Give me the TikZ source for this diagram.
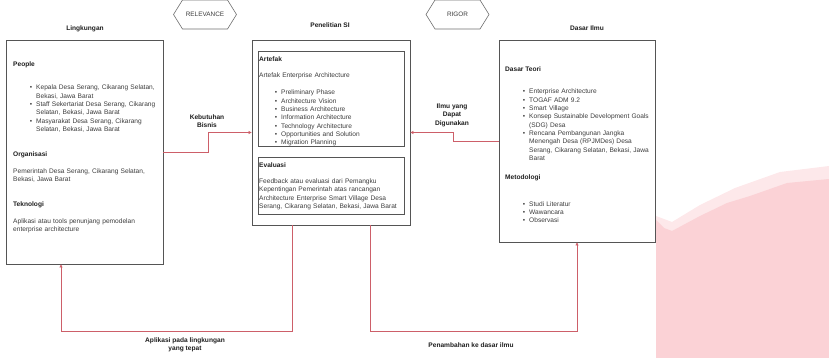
\documentclass[tikz,border=0pt]{standalone}
\usepackage{fontspec}
\setmainfont{Liberation Sans}
\usetikzlibrary{arrows.meta}
\definecolor{txtc}{RGB}{60,60,60}
\definecolor{headc}{RGB}{30,30,30}
\definecolor{boxc}{RGB}{85,85,85}
\definecolor{hexc}{RGB}{110,110,110}
\definecolor{linec}{RGB}{205,95,105}
\definecolor{pinkA}{RGB}{251,210,214}
\definecolor{pinkB}{RGB}{253,232,234}
\newcommand\fsz{\fontsize{6.6}{8.3}\selectfont}
\newcommand\mybl[1]{\begin{list}{\textbullet}{\setlength\leftmargin{10pt}\setlength\labelwidth{5pt}\setlength\labelsep{4pt}\setlength\itemsep{0pt}\setlength\parsep{0pt}\setlength\topsep{0pt}\setlength\partopsep{0pt}}#1\end{list}}
\tikzset{
  bigbox/.style={draw=boxc, line width=0.8pt, inner sep=0pt},
  inbox/.style={draw=boxc, line width=0.7pt, inner sep=0pt},
  txt/.style={anchor=north west, inner sep=0pt, text width=150pt, align=left, font=\fsz, text=txtc},
  head/.style={anchor=north west, inner sep=0pt, font=\fsz\bfseries, text=headc},
  title/.style={inner sep=0pt, font=\fsz\bfseries, text=headc},
  clabel/.style={inner sep=0pt, align=center, font=\fontsize{6.6}{8.6}\selectfont\bfseries, text=headc},
  hexlbl/.style={inner sep=0pt, font=\fontsize{6.4}{8}\selectfont, text=txtc},
  hexline/.style={draw=hexc, line width=0.6pt},
  conn/.style={draw=linec, line width=0.6pt, -{Triangle[length=3pt,width=3pt]}}
}
\begin{document}
\begin{tikzpicture}[x=1pt,y=-1pt]
\useasboundingbox (0,0) rectangle (829,358);
% watermark shape
\fill[pinkB] (656,358) -- (656,216) -- (672,222) -- (700,205) -- (735,188) -- (780,172) -- (829,166) -- (829,358) -- cycle;
\fill[pinkA] (656,358) -- (656,220) -- (664,228) -- (672,231) -- (700,216) -- (727,203) -- (750,196) -- (787,183) -- (829,179) -- (829,358) -- cycle;

% main boxes
\node[bigbox, minimum width=157pt, minimum height=224pt] (lbox) at (84.5,152) {};
\node[bigbox, minimum width=158pt, minimum height=185pt] (cbox) at (331,132.5) {};
\node[bigbox, minimum width=156pt, minimum height=202pt] (rbox) at (577,141) {};
\node[inbox, minimum width=146pt, minimum height=95pt] (artbox) at (331,98.5) {};
\node[inbox, minimum width=146pt, minimum height=57pt] (evbox) at (331,185.5) {};

% titles
\node[title] (tl) at (85,29) {Lingkungan};
\node[title] (tc) at (330,25) {Penelitian SI};
\node[title] (tr) at (587,28.5) {Dasar Ilmu};

% hexagons
\node[hexlbl] (rel) at (205,14.5) {RELEVANCE};
\draw[hexline] ([shift={(-31.5,0)}]rel.center) -- ([shift={(-22.5,14.5)}]rel.center) -- ([shift={(22.5,14.5)}]rel.center) -- ([shift={(31.5,0)}]rel.center) -- ([shift={(22.5,-14.5)}]rel.center) -- ([shift={(-22.5,-14.5)}]rel.center) -- cycle;
\node[hexlbl] (rig) at (457.5,14.5) {RIGOR};
\draw[hexline] ([shift={(-31.5,0)}]rig.center) -- ([shift={(-22.5,14.5)}]rig.center) -- ([shift={(22.5,14.5)}]rig.center) -- ([shift={(31.5,0)}]rig.center) -- ([shift={(22.5,-14.5)}]rig.center) -- ([shift={(-22.5,-14.5)}]rig.center) -- cycle;

% left box content
\node[head] (lpeople) at (13,61.5) {People};
\node[txt] (lplist) at (26,81.5) {\mybl{%
\item Kepala Desa Serang, Cikarang Selatan,\\ Bekasi, Jawa Barat
\item Staff Sekertariat Desa Serang, Cikarang\\ Selatan, Bekasi, Jawa Barat
\item Masyarakat Desa Serang, Cikarang\\ Selatan, Bekasi, Jawa Barat}};
\node[head] (lorg) at (13,151.5) {Organisasi};
\node[txt] (lorgt) at (13,168.5) {Pemerintah Desa Serang, Cikarang Selatan,\\ Bekasi, Jawa Barat};
\node[head] (ltek) at (13,201.5) {Teknologi};
\node[txt] (ltekt) at (13,218.5) {Aplikasi atau tools penunjang pemodelan\\ enterprise architecture};

% center box content
\node[head] (cart) at (259,56.5) {Artefak};
\node[txt] (carts) at (259,72.5) {Artefak Enterprise Architecture};
\node[txt] (calist) at (271,86.5) {\mybl{%
\item Preliminary Phase
\item Architecture Vision
\item Business Architecture
\item Information Architecture
\item Technology Architecture
\item Opportunities and Solution
\item Migration Planning}};
\node[head] (cev) at (259,162.5) {Evaluasi};
\node[txt] (cevt) at (259,178.5) {Feedback atau evaluasi dari Pemangku\\ Kepentingan Pemerintah atas rancangan\\ Architecture Enterprise Smart Village Desa\\ Serang, Cikarang Selatan, Bekasi, Jawa Barat};

% right box content
\node[head] (rdt) at (505,66.5) {Dasar Teori};
\node[txt] (rdtl) at (519,85.5) {\mybl{%
\item Enterprise Architecture
\item TOGAF ADM 9.2
\item Smart Village
\item Konsep Sustainable Development Goals\\ (SDG) Desa
\item Rencana Pembangunan Jangka\\ Menengah Desa (RPJMDes) Desa\\ Serang, Cikarang Selatan, Bekasi, Jawa\\ Barat}};
\node[head] (rmet) at (505,174.5) {Metodologi};
\node[txt] (rmetl) at (519,197.5) {\mybl{%
\item Studi Literatur
\item Wawancara
\item Observasi}};

% connectors
\draw[conn] (lbox.east) -- ++(45,0) |- (cbox.west);
\node[clabel] (kb) at (207,121) {Kebutuhan\\ Bisnis};
\draw[conn] (rbox.west) -- ++(-45,0) |- (cbox.east);
\node[clabel] (iy) at (452,115) {Ilmu yang\\ Dapat\\ Digunakan};
\draw[conn] ([xshift=-39pt]cbox.south) -- ++(0,106) -| ([xshift=-23.5pt]lbox.south);
\node[clabel] (ap) at (185,345) {Aplikasi pada lingkungan\\ yang tepat};
\draw[conn] ([xshift=39pt]cbox.south) -- ++(0,106) -| (rbox.south);
\node[clabel] (pd) at (471,345) {Penambahan ke dasar ilmu};
\end{tikzpicture}
\end{document}
